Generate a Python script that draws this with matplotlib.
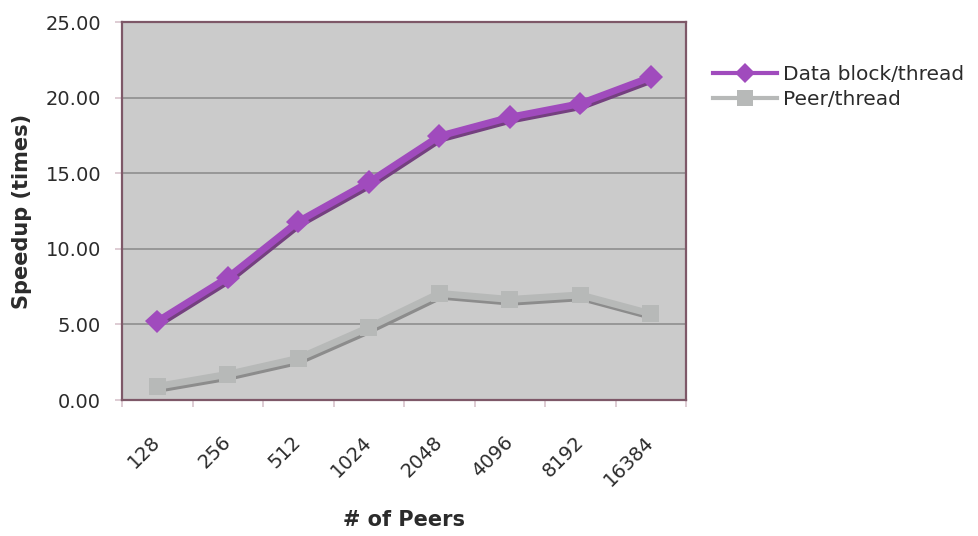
import numpy as np
import matplotlib.pyplot as plt
import matplotlib.patheffects as pe
from matplotlib.lines import Line2D
from matplotlib.ticker import FormatStrFormatter

peers = ['128', '256', '512', '1024', '2048', '4096', '8192', '16384']
block_thread = [5.2, 8.1, 11.8, 14.4, 17.45, 18.7, 19.6, 21.35]
peer_thread = [0.9, 1.7, 2.75, 4.8, 7.05, 6.65, 6.95, 5.7]

purple = '#a04bbd'
purple_dark = '#74407f'
grey = '#b7b9b8'
grey_dark = '#8c8c8c'
text_col = '#2b2b2b'

fig = plt.figure(figsize=(9.79, 5.36), dpi=100)
ax = fig.add_axes([122/979, 136/536, 564/979, 378/536])
ax.set_facecolor('#cbcbcb')

x = np.arange(len(peers))

# thick lines with a dark drop shadow, like the old excel 3d look
ax.plot(x, block_thread, color=purple, lw=5, marker='D', ms=12, mew=0, zorder=3,
        path_effects=[pe.SimpleLineShadow(offset=(1, -2), shadow_color=purple_dark, alpha=1),
                      pe.Normal()])
ax.plot(x, peer_thread, color=grey, lw=5, marker='s', ms=12, mew=0, zorder=3,
        path_effects=[pe.SimpleLineShadow(offset=(1, -2), shadow_color=grey_dark, alpha=1),
                      pe.Normal()])

ax.set_xlim(-0.5, len(peers) - 0.5)
ax.set_ylim(0, 25)
ax.set_yticks(np.arange(0, 26, 5))
ax.yaxis.set_major_formatter(FormatStrFormatter('%.2f'))
ax.yaxis.grid(True, color='#8e8e8e', lw=1.2)
ax.set_axisbelow(True)

ax.set_xticks(x)
ax.set_xticklabels(peers, rotation=45, ha='right', va='center', rotation_mode='anchor')
ax.set_xticks(np.arange(-0.5, len(peers), 1), minor=True)
ax.tick_params(axis='x', which='major', length=0, pad=28, labelsize=14, labelcolor=text_col)
ax.tick_params(axis='x', which='minor', length=5, color='#d8c4cc', width=1.2)
ax.tick_params(axis='y', length=5, color='#d8c4cc', width=1.2, pad=10,
               labelsize=14, labelcolor=text_col)

for s in ax.spines.values():
    s.set_color('#7e5868')
    s.set_linewidth(1.6)

ax.set_xlabel('# of Peers', fontsize=15, fontweight='bold', color=text_col, va='center')
ax.xaxis.set_label_coords(0.5, -0.317)
ax.set_ylabel('Speedup (times)', fontsize=15, fontweight='bold', color=text_col, va='center')
ax.yaxis.set_label_coords(-0.177, 0.5)

handles = [Line2D([], [], color=purple, lw=3, marker='D', ms=10, mew=0),
           Line2D([], [], color=grey, lw=3, marker='s', ms=12, mew=0)]
fig.legend(handles, ['Data block/thread', 'Peer/thread'], loc='upper left',
           bbox_to_anchor=(713/979, 0.878), bbox_transform=fig.transFigure,
           frameon=False, fontsize=14.5, handlelength=3.2, handletextpad=0.3,
           labelspacing=0.3, borderpad=0, borderaxespad=0, labelcolor=text_col)

fig.savefig('out.png', dpi=100)
